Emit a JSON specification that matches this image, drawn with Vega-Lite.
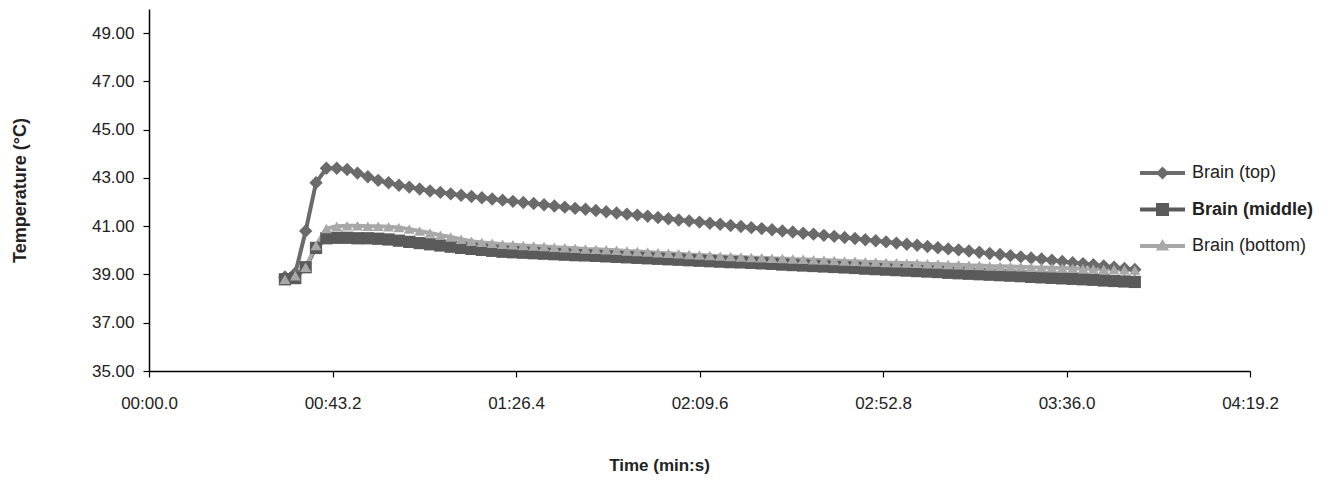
{
  "$schema": "https://vega.github.io/schema/vega-lite/v6.json",
  "width": 1101,
  "height": 362,
  "autosize": {"type": "none"},
  "padding": {"left": 149, "top": 9, "right": 87, "bottom": 110},
  "background": "white",
  "config": {
    "view": {"stroke": null},
    "font": "Liberation Sans",
    "axis": {"grid": false, "domainColor": "#000000", "domainWidth": 1.5, "tickColor": "#000000", "tickWidth": 1.2, "tickSize": 6, "labelColor": "#222222", "titleColor": "#222222", "labelFont": "Liberation Sans", "titleFont": "Liberation Sans", "labelFontSize": 17, "titleFontWeight": "bold"}
  },
  "data": {"values": [
    {"t":32.00,"top":38.90,"middle":38.80,"bottom":38.80},
    {"t":34.44,"top":39.05,"middle":38.85,"bottom":38.95},
    {"t":36.88,"top":40.80,"middle":39.30,"bottom":39.30},
    {"t":39.32,"top":42.80,"middle":40.10,"bottom":40.20},
    {"t":41.76,"top":43.40,"middle":40.50,"bottom":40.90},
    {"t":44.20,"top":43.40,"middle":40.52,"bottom":41.00},
    {"t":46.64,"top":43.35,"middle":40.52,"bottom":41.02},
    {"t":49.08,"top":43.20,"middle":40.50,"bottom":41.02},
    {"t":51.52,"top":43.05,"middle":40.50,"bottom":41.00},
    {"t":53.96,"top":42.90,"middle":40.48,"bottom":41.00},
    {"t":56.40,"top":42.80,"middle":40.45,"bottom":40.98},
    {"t":58.84,"top":42.70,"middle":40.40,"bottom":40.95},
    {"t":61.28,"top":42.62,"middle":40.35,"bottom":40.88},
    {"t":63.72,"top":42.54,"middle":40.30,"bottom":40.80},
    {"t":66.16,"top":42.46,"middle":40.25,"bottom":40.72},
    {"t":68.60,"top":42.40,"middle":40.20,"bottom":40.63},
    {"t":71.04,"top":42.34,"middle":40.15,"bottom":40.55},
    {"t":73.48,"top":42.28,"middle":40.10,"bottom":40.46},
    {"t":75.92,"top":42.23,"middle":40.06,"bottom":40.38},
    {"t":78.36,"top":42.18,"middle":40.02,"bottom":40.33},
    {"t":80.80,"top":42.13,"middle":39.98,"bottom":40.29},
    {"t":83.24,"top":42.08,"middle":39.94,"bottom":40.25},
    {"t":85.68,"top":42.03,"middle":39.92,"bottom":40.23},
    {"t":88.12,"top":41.98,"middle":39.90,"bottom":40.20},
    {"t":90.56,"top":41.94,"middle":39.88,"bottom":40.18},
    {"t":93.00,"top":41.89,"middle":39.86,"bottom":40.16},
    {"t":95.44,"top":41.84,"middle":39.84,"bottom":40.13},
    {"t":97.88,"top":41.79,"middle":39.82,"bottom":40.11},
    {"t":100.32,"top":41.74,"middle":39.80,"bottom":40.09},
    {"t":102.76,"top":41.70,"middle":39.79,"bottom":40.06},
    {"t":105.20,"top":41.65,"middle":39.77,"bottom":40.04},
    {"t":107.64,"top":41.60,"middle":39.75,"bottom":40.02},
    {"t":110.08,"top":41.55,"middle":39.73,"bottom":40.00},
    {"t":112.52,"top":41.50,"middle":39.71,"bottom":39.97},
    {"t":114.96,"top":41.46,"middle":39.69,"bottom":39.95},
    {"t":117.40,"top":41.41,"middle":39.67,"bottom":39.93},
    {"t":119.84,"top":41.36,"middle":39.65,"bottom":39.90},
    {"t":122.28,"top":41.31,"middle":39.63,"bottom":39.88},
    {"t":124.72,"top":41.26,"middle":39.61,"bottom":39.86},
    {"t":127.16,"top":41.22,"middle":39.59,"bottom":39.83},
    {"t":129.60,"top":41.17,"middle":39.57,"bottom":39.81},
    {"t":132.04,"top":41.12,"middle":39.55,"bottom":39.79},
    {"t":134.48,"top":41.08,"middle":39.53,"bottom":39.76},
    {"t":136.92,"top":41.03,"middle":39.51,"bottom":39.74},
    {"t":139.36,"top":40.99,"middle":39.50,"bottom":39.72},
    {"t":141.80,"top":40.94,"middle":39.48,"bottom":39.70},
    {"t":144.24,"top":40.90,"middle":39.46,"bottom":39.69},
    {"t":146.68,"top":40.85,"middle":39.44,"bottom":39.67},
    {"t":149.12,"top":40.80,"middle":39.41,"bottom":39.66},
    {"t":151.56,"top":40.76,"middle":39.39,"bottom":39.64},
    {"t":154.00,"top":40.71,"middle":39.37,"bottom":39.63},
    {"t":156.44,"top":40.67,"middle":39.35,"bottom":39.61},
    {"t":158.88,"top":40.62,"middle":39.33,"bottom":39.60},
    {"t":161.32,"top":40.58,"middle":39.31,"bottom":39.58},
    {"t":163.76,"top":40.53,"middle":39.29,"bottom":39.56},
    {"t":166.20,"top":40.49,"middle":39.27,"bottom":39.55},
    {"t":168.64,"top":40.44,"middle":39.24,"bottom":39.53},
    {"t":171.08,"top":40.40,"middle":39.22,"bottom":39.52},
    {"t":173.52,"top":40.35,"middle":39.20,"bottom":39.50},
    {"t":175.96,"top":40.30,"middle":39.18,"bottom":39.49},
    {"t":178.40,"top":40.25,"middle":39.16,"bottom":39.47},
    {"t":180.84,"top":40.21,"middle":39.14,"bottom":39.46},
    {"t":183.28,"top":40.16,"middle":39.12,"bottom":39.44},
    {"t":185.72,"top":40.11,"middle":39.10,"bottom":39.43},
    {"t":188.16,"top":40.06,"middle":39.07,"bottom":39.41},
    {"t":190.60,"top":40.02,"middle":39.05,"bottom":39.40},
    {"t":193.04,"top":39.97,"middle":39.03,"bottom":39.38},
    {"t":195.48,"top":39.92,"middle":39.01,"bottom":39.37},
    {"t":197.92,"top":39.87,"middle":38.99,"bottom":39.35},
    {"t":200.36,"top":39.83,"middle":38.97,"bottom":39.34},
    {"t":202.80,"top":39.78,"middle":38.95,"bottom":39.33},
    {"t":205.24,"top":39.73,"middle":38.93,"bottom":39.32},
    {"t":207.68,"top":39.68,"middle":38.90,"bottom":39.30},
    {"t":210.12,"top":39.64,"middle":38.88,"bottom":39.29},
    {"t":212.56,"top":39.59,"middle":38.86,"bottom":39.28},
    {"t":215.00,"top":39.54,"middle":38.84,"bottom":39.27},
    {"t":217.44,"top":39.49,"middle":38.82,"bottom":39.26},
    {"t":219.88,"top":39.45,"middle":38.80,"bottom":39.24},
    {"t":222.32,"top":39.40,"middle":38.78,"bottom":39.23},
    {"t":224.76,"top":39.35,"middle":38.75,"bottom":39.22},
    {"t":227.20,"top":39.30,"middle":38.73,"bottom":39.21},
    {"t":229.64,"top":39.25,"middle":38.71,"bottom":39.20},
    {"t":232.08,"top":39.21,"middle":38.69,"bottom":39.18}
  ]},
  "transform": [{"fold": ["top", "middle", "bottom"], "as": ["series", "temp"]}],
  "encoding": {
    "x": {
      "field": "t", "type": "quantitative",
      "scale": {"domain": [0, 259.2], "nice": false, "zero": false},
      "axis": {
        "values": [0, 43.2, 86.4, 129.6, 172.8, 216, 259.2],
        "labelExpr": "pad(floor(datum.value/60), 2, '0', 'left') + ':' + pad(format(datum.value - 60*floor(datum.value/60), '.1f'), 4, '0', 'left')",
        "labelPadding": 18,
        "labelFlush": false,
        "labelOverlap": false,
        "title": "Time (min:s)",
        "titleFontSize": 17,
        "titlePadding": 46,
        "titleX": 510
      }
    },
    "y": {
      "field": "temp", "type": "quantitative",
      "scale": {"domain": [35, 50], "nice": false, "zero": false},
      "axis": {
        "values": [35, 37, 39, 41, 43, 45, 47, 49],
        "format": ".2f",
        "labelPadding": 9,
        "labelOverlap": false,
        "title": "Temperature (°C)",
        "titleFontSize": 18,
        "titlePadding": 62
      }
    }
  },
  "layer": [
    {
      "mark": {"type": "line", "strokeWidth": 4},
      "encoding": {
        "color": {"field": "series", "type": "nominal", "scale": {"domain": ["top", "middle", "bottom"], "range": ["#6b6b6b", "#5a5a5a", "#a8a8a8"]}, "legend": null}
      }
    },
    {
      "mark": {"type": "point", "filled": true, "opacity": 1, "strokeWidth": 0},
      "encoding": {
        "color": {"field": "series", "type": "nominal", "scale": {"domain": ["top", "middle", "bottom"], "range": ["#6b6b6b", "#5a5a5a", "#a8a8a8"]}, "legend": null},
        "shape": {"field": "series", "type": "nominal", "scale": {"domain": ["top", "middle", "bottom"], "range": ["diamond", "square", "triangle-up"]}, "legend": null},
        "size": {"field": "series", "type": "nominal", "scale": {"domain": ["top", "middle", "bottom"], "range": [180, 120, 190]}, "legend": null},
        "order": {"field": "series", "type": "nominal", "sort": "descending"}
      }
    },
    {
      "data": {"values": []},
      "mark": {"type": "point", "filled": true, "opacity": 1, "strokeWidth": 0},
      "encoding": {
        "color": {"field": "series", "type": "nominal", "scale": {"domain": ["top", "middle", "bottom"], "range": ["#6b6b6b", "#5a5a5a", "#a8a8a8"]},
          "legend": {"title": null, "orient": "none", "legendX": 1004.5, "legendY": 155, "padding": 0, "symbolSize": 324, "symbolStrokeWidth": 0, "labelOffset": 20.5, "rowPadding": 18.5, "labelFont": "Liberation Sans", "labelFontSize": 18, "labelColor": "#222222", "labelLimit": 300,
            "labelExpr": "'Brain (' + datum.label + ')'",
            "labelFontWeight": {"expr": "datum.value === 'middle' ? 'bold' : 'normal'"}}},
        "shape": {"field": "series", "type": "nominal", "scale": {"domain": ["top", "middle", "bottom"], "range": [
            "M-2.5,-0.22L-0.5,-0.22L0,-0.72L0.5,-0.22L2.5,-0.22L2.5,0.22L0.5,0.22L0,0.72L-0.5,0.22L-2.5,0.22Z",
            "M-2.5,-0.22L-0.72,-0.22L-0.72,-0.72L0.72,-0.72L0.72,-0.22L2.5,-0.22L2.5,0.22L0.72,0.22L0.72,0.72L-0.72,0.72L-0.72,0.22L-2.5,0.22Z",
            "M-2.5,-0.22L-0.32,-0.22L0,-0.78L0.32,-0.22L2.5,-0.22L2.5,0.22L0.58,0.22L0.74,0.5L-0.74,0.5L-0.58,0.22L-2.5,0.22Z"]},
          "legend": {"title": null, "orient": "none", "legendX": 1004.5, "legendY": 155, "padding": 0, "symbolSize": 324, "symbolStrokeWidth": 0, "labelOffset": 20.5, "rowPadding": 18.5, "labelFont": "Liberation Sans", "labelFontSize": 18, "labelColor": "#222222", "labelLimit": 300,
            "labelExpr": "'Brain (' + datum.label + ')'",
            "labelFontWeight": {"expr": "datum.value === 'middle' ? 'bold' : 'normal'"}}}
      }
    }
  ],
  "resolve": {"scale": {"color": "independent", "shape": "independent", "size": "independent"}}
}
